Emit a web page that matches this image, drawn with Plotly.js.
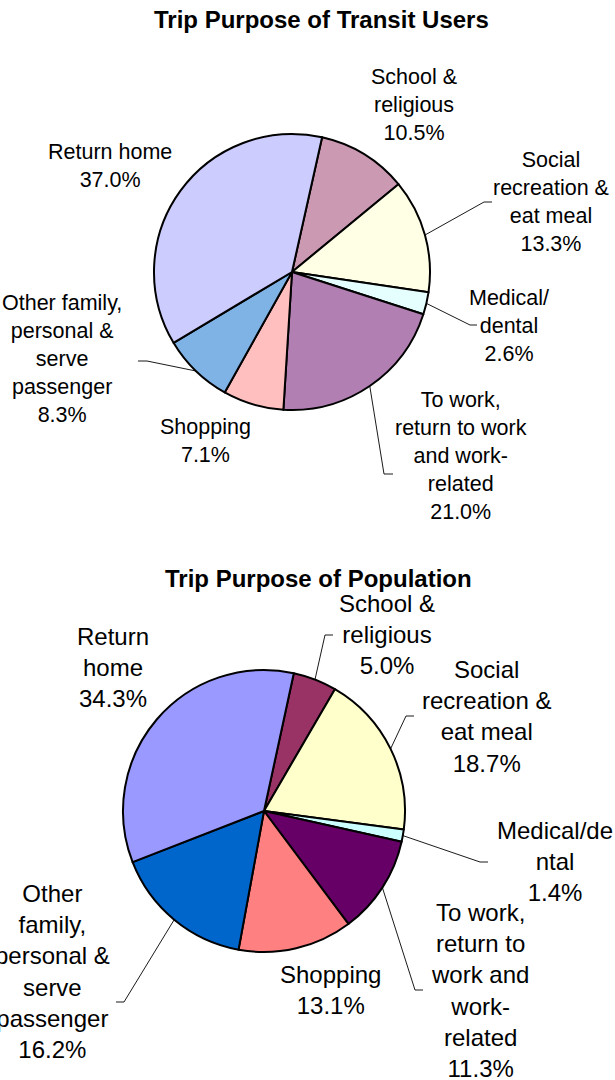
<!DOCTYPE html>
<html>
<head>
<meta charset="utf-8">
<script src="https://cdn.plot.ly/plotly-3.0.1.min.js"></script>
<style>
  html, body { margin: 0; padding: 0; background: #ffffff; }
  #chart { width: 615px; height: 1080px; }
</style>
</head>
<body>
<div id="chart"></div>
<script>
// ---------------- DATA ----------------
const categories = [
  "School & religious",
  "Social recreation & eat meal",
  "Medical/dental",
  "To work, return to work and work-related",
  "Shopping",
  "Other family, personal & serve passenger",
  "Return home"
];
const transitValues = [10.5, 13.3, 2.6, 21.0, 7.1, 8.3, 37.0];
const populationValues = [5.0, 18.7, 1.4, 11.3, 13.1, 16.2, 34.3];

const transitLabelLines = [
  ["School &", "religious"],
  ["Social", "recreation &", "eat meal"],
  ["Medical/", "dental"],
  ["To work,", "return to work", "and work-", "related"],
  ["Shopping"],
  ["Other family,", "personal &", "serve", "passenger"],
  ["Return home"]
];
const populationLabelLines = [
  ["School &", "religious"],
  ["Social", "recreation &", "eat meal"],
  ["Medical/de", "ntal"],
  ["To work,", "return to", "work and", "work-", "related"],
  ["Shopping"],
  ["Other", "family,", "personal &", "serve", "passenger"],
  ["Return", "home"]
];

const transitTitle = "Trip Purpose of Transit Users";
const populationTitle = "Trip Purpose of Population";

const transitColors = ["#CC99B2", "#FFFFE5", "#E5FFFF", "#B27FB2", "#FFBFBF", "#7FB2E5", "#CCCCFF"];
const populationColors = ["#993366", "#FFFFCC", "#CCFFFF", "#660066", "#FF8080", "#0066CC", "#9999FF"];

// ---------------- LAYOUT GEOMETRY ----------------
const W = 615, H = 1080;
const FONT = "Liberation Sans, Arial, Helvetica, sans-serif";
const px = x => x / W;
const py = y => 1 - y / H;

const charts = [
  {
    values: transitValues, colors: transitColors, lines: transitLabelLines, title: transitTitle,
    cx: 292, cy: 272, r: 138, rot: 12.6, fontSize: 21.5,
    titlePos: [321, 19],
    labelPos: [[414, 105], [551, 202], [509, 326], [461, 456], [205, 441], [62, 359], [110, 166]],
    leaders: { 1: [[484, 202], [492, 202]], 2: [[470, 325], [477, 325]], 3: [[384, 474], [393, 474]], 5: [[147, 361], [138, 361]] }
  },
  {
    values: populationValues, colors: populationColors, lines: populationLabelLines, title: populationTitle,
    cx: 264, cy: 811, r: 141, rot: 12.2, fontSize: 24,
    titlePos: [318, 578],
    labelPos: [[387, 635], [486, 716], [555, 861], [480, 990], [330, 990], [52, 971], [113, 667]],
    leaders: { 0: [[325, 635], [333, 635]], 1: [[406, 716], [414, 716]], 2: [[480, 862], [488, 862]], 3: [[415, 990], [423, 990]], 5: [[124, 1002], [116, 1002]] }
  }
];

const data = [];
const annotations = [];
const shapes = [];

charts.forEach(c => {
  data.push({
    type: "pie",
    labels: categories,
    values: c.values,
    sort: false,
    direction: "clockwise",
    rotation: c.rot,
    textinfo: "none",
    hoverinfo: "label+percent",
    marker: { colors: c.colors, line: { color: "#000000", width: 2 } },
    domain: { x: [px(c.cx - c.r), px(c.cx + c.r)], y: [py(c.cy + c.r), py(c.cy - c.r)] },
    showlegend: false
  });

  annotations.push({
    text: "<b>" + c.title + "</b>", xref: "paper", yref: "paper",
    x: px(c.titlePos[0]), y: py(c.titlePos[1]), xanchor: "center", yanchor: "middle",
    showarrow: false, font: { family: FONT, size: 24, color: "#000000" }
  });

  const total = c.values.reduce((a, b) => a + b, 0);
  let cum = 0;
  c.values.forEach((v, i) => {
    const mid = (c.rot + 360 * (cum + v / 2) / total) * Math.PI / 180;
    cum += v;
    const lab = c.lines[i].concat([v.toFixed(1) + "%"]).join("<br>");
    annotations.push({
      text: lab, xref: "paper", yref: "paper",
      x: px(c.labelPos[i][0]), y: py(c.labelPos[i][1]), xanchor: "center", yanchor: "middle",
      align: "center", showarrow: false,
      font: { family: FONT, size: c.fontSize, color: "#000000" }
    });
    if (c.leaders[i]) {
      const sx = c.cx + c.r * Math.sin(mid);
      const sy = c.cy - c.r * Math.cos(mid);
      const [e1, e2] = c.leaders[i];
      shapes.push({
        type: "path", xref: "paper", yref: "paper",
        path: `M ${px(sx)} ${py(sy)} L ${px(e1[0])} ${py(e1[1])} L ${px(e2[0])} ${py(e2[1])}`,
        line: { color: "#000000", width: 0.9 }
      });
    }
  });
});

const layout = {
  width: W, height: H,
  margin: { l: 0, r: 0, t: 0, b: 0 },
  paper_bgcolor: "#ffffff",
  plot_bgcolor: "#ffffff",
  showlegend: false,
  annotations: annotations,
  shapes: shapes
};

Plotly.newPlot("chart", data, layout, { displayModeBar: false, staticPlot: true });
</script>
</body>
</html>
